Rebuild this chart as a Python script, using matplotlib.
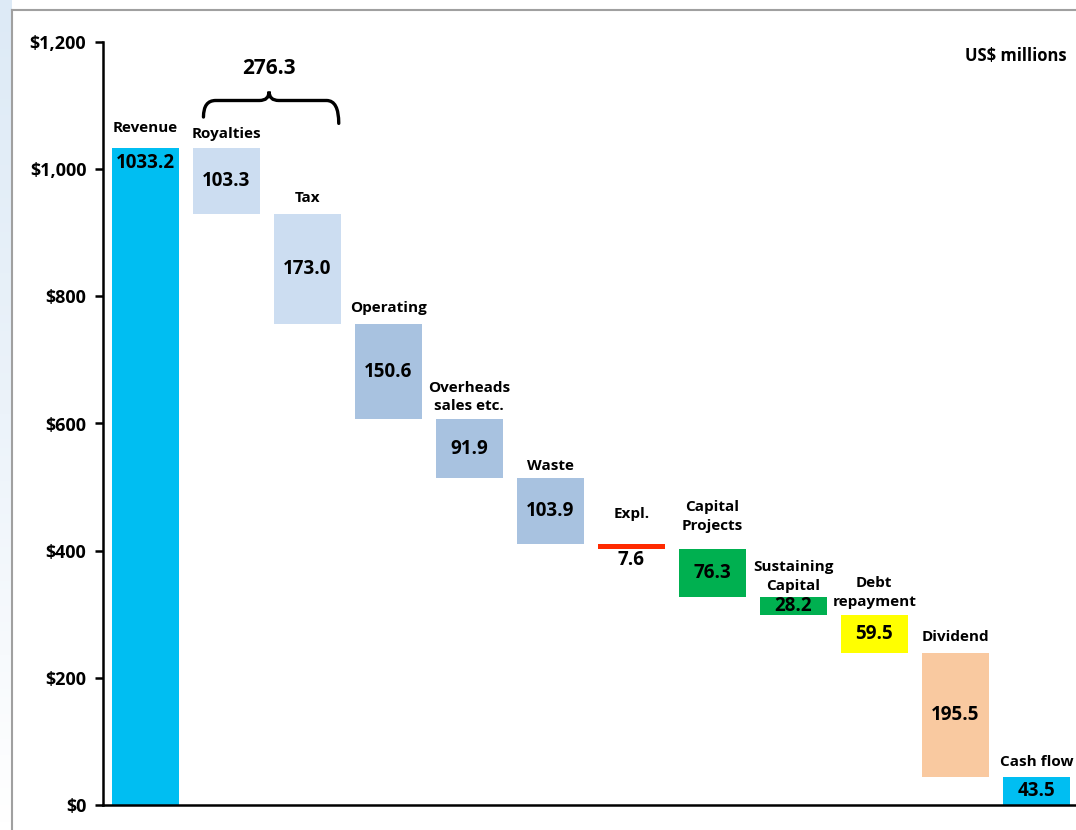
import numpy as np
import matplotlib
matplotlib.use("Agg")
import matplotlib.pyplot as plt
from matplotlib.path import Path
from matplotlib.patches import PathPatch

plt.rcParams['font.family'] = ['Open Sans', 'DejaVu Sans']
plt.rcParams['font.weight'] = 'bold'

# waterfall data (US$ millions)
categories = ['Revenue', 'Royalties', 'Tax', 'Operating', 'Overheads\nsales etc.', 'Waste',
              'Expl.', 'Capital\nProjects', 'Sustaining\nCapital', 'Debt\nrepayment',
              'Dividend', 'Cash flow']
values = [1033.2, 103.3, 173.0, 150.6, 91.9, 103.9, 7.6, 76.3, 28.2, 59.5, 195.5, 43.5]
kinds = ['total', 'down', 'down', 'down', 'down', 'down', 'down', 'down', 'down', 'down', 'down', 'total']
colors = ['#00BEF2', '#CCDDF1', '#CCDDF1', '#A8C2E0', '#A8C2E0', '#A8C2E0', '#FF2A00',
          '#00B050', '#00B050', '#FFFF00', '#F9C9A0', '#00BEF2']
yticks = [0, 200, 400, 600, 800, 1000, 1200]

# label offsets in pixels (name above bar top)
name_off = [20, 14, 16, 16, 22.5, 12, 30, 32, 20.5, 22.5, 16, 15]

px = 0.72  # pixels -> points at dpi 100

fig = plt.figure(figsize=(10.76, 8.30), dpi=100)

# left light-blue background strip + gray frame
grad = np.linspace(0, 1, 100).reshape(-1, 1)
gax = fig.add_axes([0, 0, 12 / 1076, 1])
gax.imshow(grad, aspect='auto', cmap=matplotlib.colors.LinearSegmentedColormap.from_list(
    'g', ['#DDEAF6', '#ECF3FA', '#FFFFFF']), extent=[0, 1, 0, 1])
gax.axis('off')
fig.add_artist(plt.Line2D([12 / 1076, 12 / 1076], [0, 1 - 10 / 830], color='#A0A0A0', lw=1.5))
fig.add_artist(plt.Line2D([12 / 1076, 1], [1 - 10 / 830, 1 - 10 / 830], color='#A0A0A0', lw=1.5))

ax = fig.add_axes([103 / 1076, 25 / 830, 1 - 103 / 1076, (805 - 42) / 830])

x = np.arange(len(categories))
vals = np.array(values)
bottoms = []
level = 0.0
for v, k in zip(vals, kinds):
    if k == 'total':
        bottoms.append(0.0)
        level = v
    else:
        level -= v
        bottoms.append(level)
bottoms = np.array(bottoms)

ax.bar(x, vals, bottom=bottoms, width=0.83, color=colors, edgecolor='none', zorder=2)

for i in range(len(categories)):
    top = bottoms[i] + vals[i]
    ax.annotate(categories[i], (x[i], top), xytext=(0, name_off[i] * px), textcoords='offset points',
                ha='center', va='center', fontsize=11, fontweight='bold', linespacing=1.45)
    if i == 0:
        ax.annotate(f'{vals[i]:.1f}', (x[i], top), xytext=(0, -15 * px), textcoords='offset points',
                    ha='center', va='center', fontsize=13.5, fontweight='bold')
    elif categories[i] == 'Expl.':
        ax.annotate(f'{vals[i]:.1f}', (x[i], bottoms[i]), xytext=(0, -11 * px), textcoords='offset points',
                    ha='center', va='center', fontsize=13.5, fontweight='bold')
    else:
        ax.text(x[i], bottoms[i] + vals[i] / 2, f'{vals[i]:.1f}', ha='center', va='center',
                fontsize=13.5, fontweight='bold')

# brace over Royalties + Tax
x0, x1, xm = 0.72, 2.39, 1.53
yb, yl, yt = 1082, 1108, 1122
verts = [(x0, yb), (x0, yl), (x0 + 0.15, yl), (xm - 0.12, yl), (xm, yl), (xm, yt),
         (xm, yl), (xm + 0.12, yl), (x1 - 0.15, yl), (x1, yl), (x1, yb - 10)]
codes = [Path.MOVETO, Path.CURVE3, Path.CURVE3, Path.LINETO, Path.CURVE3, Path.CURVE3,
         Path.CURVE3, Path.CURVE3, Path.LINETO, Path.CURVE3, Path.CURVE3]
ax.add_patch(PathPatch(Path(verts, codes), facecolor='none', edgecolor='black', lw=2.4,
                       capstyle='round', clip_on=False))
ax.text(xm, 1158, f'{vals[1] + vals[2]:.1f}', ha='center', va='center', fontsize=15, fontweight='bold')

ax.text(0.99, 0.982, 'US$ millions', transform=ax.transAxes, ha='right', va='center',
        fontsize=12, fontweight='bold')

ax.set_xlim(-0.52, 11.49)
ax.set_ylim(0, 1200)
ax.set_yticks(yticks)
ax.set_yticklabels([f'${t:,}' for t in yticks], fontsize=13, fontweight='bold')
ax.set_xticks([])
ax.tick_params(axis='y', length=6, width=1.8, pad=6)
for s in ['top', 'right']:
    ax.spines[s].set_visible(False)
for s in ['left', 'bottom']:
    ax.spines[s].set_linewidth(1.8)
ax.patch.set_alpha(0)

fig.savefig('out.png', dpi=100)
